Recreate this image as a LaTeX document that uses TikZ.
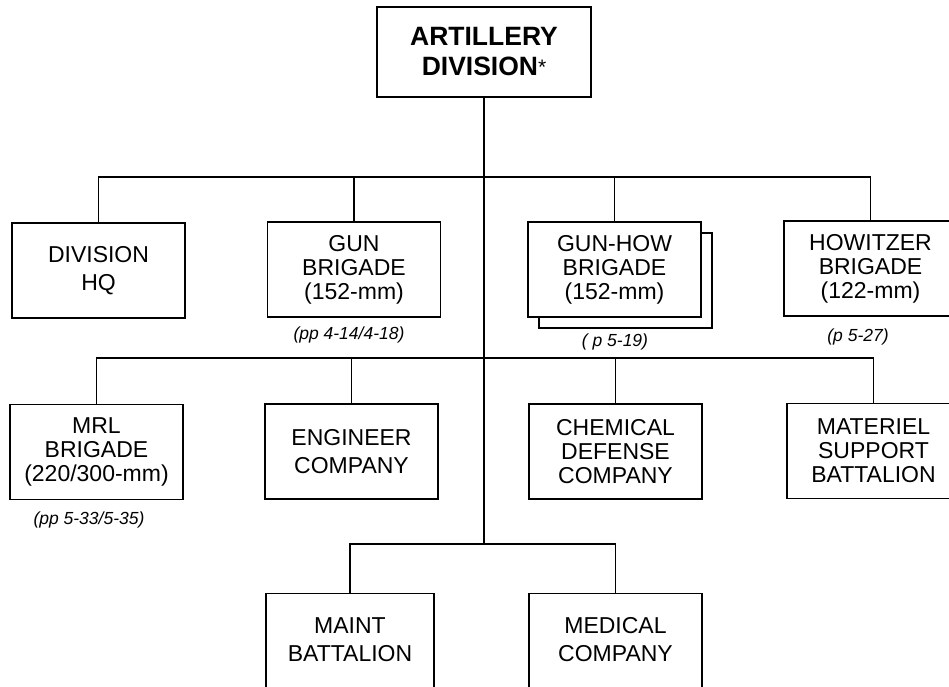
\documentclass[tikz,border=0pt]{standalone}
\usepackage{fontspec}
\setmainfont{Liberation Sans}
\begin{document}
\begin{tikzpicture}[x=1pt,y=-1pt,
  unit/.style={draw, line width=1.3pt, minimum width=173pt, minimum height=95pt,
    align=center, inner sep=0pt, fill=white, font=\fontsize{23}{24}\selectfont},
  twoline/.style={font=\fontsize{23}{28.5}\selectfont},
  caption/.style={inner sep=0pt, font=\itshape\fontsize{17.5}{20}\selectfont},
  link/.style={line width=1.3pt}]
\clip (0,0) rectangle (949,687);
\fill[white] (0,0) rectangle (949,687);

% top
\node[unit, minimum width=214pt, minimum height=90pt, font=\bfseries\fontsize{26.5}{30}\selectfont] (top) at (484,52)
  {ARTILLERY\\DIVISION{\mdseries\fontsize{21}{21}\selectfont\raisebox{1pt}{*}}};

% junction coordinates
\coordinate (b1) at (484,177);
\coordinate (b2) at (484,358);
\coordinate (b3) at (484,544);

% row 1
\node[unit, twoline] (hq) at (98.5,270.5) {DIVISION\\HQ};
\node[unit] (gun) at (354,269.5) {GUN\\BRIGADE\\(152-mm)};
\node[draw, line width=1.3pt, minimum width=173pt, minimum height=95pt, fill=white] (ghshadow) at (625.5,280.5) {};
\node[unit] (gunhow) at (614.5,269.5) {GUN-HOW\\BRIGADE\\(152-mm)};
\node[unit] (how) at (870.5,268.5) {HOWITZER\\BRIGADE\\(122-mm)};

% row 2
\node[unit] (mrl) at (96.5,452) {MRL\\BRIGADE\\(220/300-mm)};
\node[unit, twoline] (eng) at (351.5,451.5) {ENGINEER\\COMPANY};
\node[unit] (chem) at (615.5,451.5) {CHEMICAL\\DEFENSE\\COMPANY};
\node[unit] (mat) at (873.5,451) {MATERIEL\\SUPPORT\\BATTALION};

% row 3 (cut by the page edge)
\node[unit, twoline, minimum width=168pt, minimum height=120pt, anchor=north] (maint) at (350,593) {MAINT\\BATTALION\\~};
\node[unit, twoline, minimum width=173pt, minimum height=120pt, anchor=north] (med) at (615.5,593) {MEDICAL\\COMPANY\\~};

% captions
\node[caption] (c1) at (349,335) {(pp 4-14/4-18)};
\node[caption] (c2) at (615,342) {( p 5-19)};
\node[caption] (c3) at (858,337) {(p 5-27)};
\node[caption] (c4) at (89,520) {(pp 5-33/5-35)};

% connectors
\draw[link] (top.south) -- (b3);
\draw[link] (hq.north) |- (b1) -| (how.north);
\draw[link] (gun.north) -- (gun.north |- b1);
\draw[link] (gunhow.north) -- (gunhow.north |- b1);
\draw[link] (mrl.north) |- (b2) -| (mat.north);
\draw[link] (eng.north) -- (eng.north |- b2);
\draw[link] (chem.north) -- (chem.north |- b2);
\draw[link] (maint.north) |- (b3) -| (med.north);
\end{tikzpicture}
\end{document}
